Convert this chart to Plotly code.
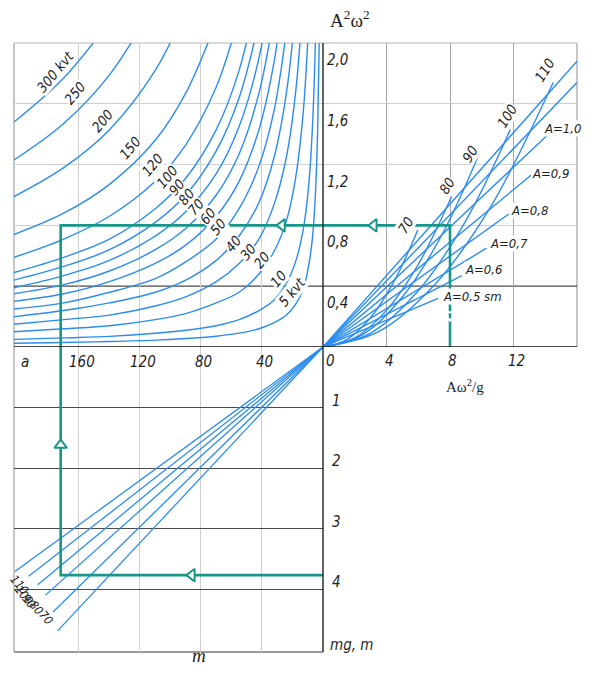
import plotly.graph_objects as go

OFF = 8                  # page body margin of the html page
W, H = 591 - 2 * OFF, 673 - 2 * OFF   # figure size that fits the window without scrollbars

# ---------------- data ----------------
# Upper-left quadrant: power curves, A^2w^2 read at common m positions
M_GRID = [202.6, 170, 140, 110, 90, 70, 55, 42, 32, 24, 18, 13, 9.5, 7, 5, 3.5, 2.5, 1.8]
POWER_LABELS = ["300 kvt", "250", "200", "150", "120", "100", "90", "80", "70",
                "60", "50", "40", "30", "20", "10", "5 kvt"]
POWER_Y = [
    [1.48, 1.77, 2.14],
    [1.23, 1.47, 1.79, 2.27],
    [0.99, 1.18, 1.43, 1.82, 2.22],
    [0.74, 0.88, 1.07, 1.36, 1.67, 2.14],
    [0.59, 0.71, 0.86, 1.09, 1.33, 1.71, 2.18],
    [0.49, 0.59, 0.71, 0.91, 1.11, 1.43, 1.82, 2.38],
    [0.44, 0.53, 0.64, 0.82, 1.00, 1.29, 1.64, 2.14],
    [0.39, 0.47, 0.57, 0.73, 0.89, 1.14, 1.45, 1.90, 2.50],
    [0.35, 0.41, 0.50, 0.64, 0.78, 1.00, 1.27, 1.67, 2.19],
    [0.30, 0.35, 0.43, 0.55, 0.67, 0.86, 1.09, 1.43, 1.88, 2.50],
    [0.25, 0.29, 0.36, 0.45, 0.56, 0.71, 0.91, 1.19, 1.56, 2.08],
    [0.20, 0.24, 0.29, 0.36, 0.44, 0.57, 0.73, 0.95, 1.25, 1.67, 2.22],
    [0.15, 0.18, 0.21, 0.27, 0.33, 0.43, 0.55, 0.71, 0.94, 1.25, 1.67, 2.31],
    [0.10, 0.12, 0.14, 0.18, 0.22, 0.29, 0.36, 0.48, 0.63, 0.83, 1.11, 1.54, 2.11],
    [0.05, 0.06, 0.07, 0.09, 0.11, 0.14, 0.18, 0.24, 0.31, 0.42, 0.56, 0.77, 1.05, 1.43, 2.00, 2.86],
    [0.025, 0.03, 0.036, 0.045, 0.056, 0.071, 0.091, 0.12, 0.16, 0.21, 0.28, 0.38, 0.53, 0.71, 1.00, 1.43, 2.00, 2.78],
]
POWER_LABEL_M = [175.7, 162.6, 144.9, 126.6, 112.1, 102.3, 95.7, 89.8, 83.3, 75.4, 68.9, 59.0, 49.2, 40.0, 29.5, 20.3]
POWER_LABEL_Y = [1.81, 1.67, 1.49, 1.31, 1.20, 1.12, 1.05, 0.99, 0.92, 0.86, 0.79, 0.68, 0.625, 0.57, 0.45, 0.36]

# Upper-right quadrant: frequency curves
FREQ_LABELS = ["70", "80", "90", "100", "110"]
FREQ_X = [[0, 1.5, 3, 4.5, 5.97], [0, 2, 4, 6, 8.1], [0, 2.5, 5, 7.5, 9.75],
          [0, 3, 6, 9, 11.8], [0, 3.5, 7, 10.5, 14.5]]
FREQ_Y = [[0, 0.049, 0.194, 0.437, 0.77], [0, 0.060, 0.241, 0.543, 0.99],
          [0, 0.082, 0.329, 0.740, 1.25], [0, 0.092, 0.370, 0.832, 1.43],
          [0, 0.101, 0.406, 0.912, 1.74]]
FREQ_LABEL_X = [5.23, 7.81, 9.26, 11.59, 13.98]
FREQ_LABEL_Y = [0.80, 1.06, 1.27, 1.52, 1.82]

# Upper-right quadrant: amplitude lines (from origin)
AMP_LABELS = ["A=0,5 sm", "A=0,6", "A=0,7", "A=0,8", "A=0,9", "A=1,0"]
AMP_END_X = [7.25, 8.75, 10.3, 11.7, 13.1, 14.5]
AMP_END_Y = [0.32, 0.47, 0.65, 0.875, 1.13, 1.43]
AMP_LABEL_X = [7.5, 8.9, 10.45, 11.8, 13.1, 13.85]   # left edge of each label
AMP_LABEL_Y = [0.33, 0.51, 0.68, 0.90, 1.14, 1.44]
LONG_END_X = [16, 16]
LONG_END_Y = [1.88, 1.74]

# Lower quadrant: mg lines
LOW_END_M = [202, 193, 187, 182, 177, 174]
LOW_END_MG = [3.71, 3.79, 3.93, 4.10, 4.38, 4.69]
LOW_LABELS = ["110", "100", "90", "80", "70"]
LOW_LABEL_M = [199.0, 196.0, 192.5, 188.0, 181.5]
LOW_LABEL_MG = [3.93, 4.09, 4.21, 4.32, 4.48]

# Example (teal) path
PATH_UR_X = [8, 8, 0]
PATH_UR_Y = [0, 0.8, 0.8]
PATH_UL_M = [0, 172, 172]
PATH_UL_Y = [0.8, 0.8, 0]
PATH_LO_M = [172, 172, 0]
PATH_LO_MG = [0, 3.77, 3.77]
ARROW_UR_X = [3.2, 8]
ARROW_UR_Y = [0.8, 0.21]
ARROW_UR_SYM = ["triangle-left", "triangle-down-open"]
ARROW_UL_M = [26.9]
ARROW_UL_Y = [0.8]
ARROW_LO_M = [172, 86]
ARROW_LO_MG = [1.62, 3.77]
ARROW_LO_SYM = ["triangle-up", "triangle-left"]

# Tick labels
Y_TICKS = [0.4, 0.8, 1.2, 1.6, 2.0]
Y_TICK_TEXT = ["0,4", "0,8", "1,2", "1,6", "2,0"]
M_TICKS = [160, 120, 80, 40]
X2_TICKS = [0, 4, 8, 12]
MG_TICKS = [1, 2, 3, 4]

# ---------------- styling ----------------
BLUE = "#2b8cf0"
TEAL = "#17968a"
LIGHT = "#cfcfcf"
MID = "#a8a8a8"
DARK = "#4a4a4a"
FONT_I = dict(family="DejaVu Sans Condensed, Liberation Sans Narrow, Liberation Sans, sans-serif",
              size=15, color="#1e1e1e", style="italic")
FONT_S = dict(family="Liberation Serif, DejaVu Serif, serif", size=15, color="#1e1e1e")


def pxx(x):
    return (x - OFF) / W


def pxy(y):
    return 1 - (y - OFF) / H


fig = go.Figure()

# power curves
for ys in POWER_Y:
    fig.add_trace(go.Scatter(x=M_GRID[:len(ys)], y=ys, xaxis="x", yaxis="y", mode="lines",
                             line=dict(color=BLUE, width=1.4, shape="spline"), hoverinfo="skip"))

# frequency curves
for xs, ys in zip(FREQ_X, FREQ_Y):
    fig.add_trace(go.Scatter(x=xs, y=ys, xaxis="x2", yaxis="y2", mode="lines",
                             line=dict(color=BLUE, width=1.4, shape="spline"), hoverinfo="skip"))
# amplitude lines
for xe, ye in zip(AMP_END_X + LONG_END_X, AMP_END_Y + LONG_END_Y):
    fig.add_trace(go.Scatter(x=[0, xe], y=[0, ye], xaxis="x2", yaxis="y2", mode="lines",
                             line=dict(color=BLUE, width=1.4), hoverinfo="skip"))
# lower lines
for me, ge in zip(LOW_END_M, LOW_END_MG):
    fig.add_trace(go.Scatter(x=[0, me], y=[0, ge], xaxis="x3", yaxis="y3", mode="lines",
                             line=dict(color=BLUE, width=1.3), hoverinfo="skip"))

# teal path
for xs, ys, xa, ya in [(PATH_UR_X, PATH_UR_Y, "x2", "y2"), (PATH_UL_M, PATH_UL_Y, "x", "y"),
                       (PATH_LO_M, PATH_LO_MG, "x3", "y3")]:
    fig.add_trace(go.Scatter(x=xs, y=ys, xaxis=xa, yaxis=ya, mode="lines",
                             line=dict(color=TEAL, width=2.6), hoverinfo="skip"))

MK = dict(size=11, color="white", line=dict(color=TEAL, width=2))
fig.add_trace(go.Scatter(x=ARROW_UR_X, y=ARROW_UR_Y, xaxis="x2", yaxis="y2", mode="markers",
                         marker=dict(symbol=ARROW_UR_SYM, **MK), hoverinfo="skip", cliponaxis=False))
fig.add_trace(go.Scatter(x=ARROW_UL_M, y=ARROW_UL_Y, xaxis="x", yaxis="y", mode="markers",
                         marker=dict(symbol="triangle-left", **MK), hoverinfo="skip", cliponaxis=False))
fig.add_trace(go.Scatter(x=ARROW_LO_M, y=ARROW_LO_MG, xaxis="x3", yaxis="y3", mode="markers",
                         marker=dict(symbol=ARROW_LO_SYM, **MK), hoverinfo="skip", cliponaxis=False))

ann = []
# curve labels
for t, m, y in zip(POWER_LABELS, POWER_LABEL_M, POWER_LABEL_Y):
    ann.append(dict(x=m, y=y, xref="x", yref="y", text=t, textangle=-50, showarrow=False,
                    bgcolor="white", borderpad=0, font=dict(FONT_I, size=14)))
for t, x, y in zip(FREQ_LABELS, FREQ_LABEL_X, FREQ_LABEL_Y):
    ann.append(dict(x=x, y=y, xref="x2", yref="y2", text=t, textangle=-58, showarrow=False,
                    bgcolor="white", borderpad=0, font=dict(FONT_I, size=14)))
for t, x, y in zip(AMP_LABELS, AMP_LABEL_X, AMP_LABEL_Y):
    ann.append(dict(x=x, y=y, xref="x2", yref="y2", text=t, showarrow=False, xanchor="left",
                    bgcolor="white", borderpad=0, font=dict(FONT_I, size=13)))
for t, m, g in zip(LOW_LABELS, LOW_LABEL_M, LOW_LABEL_MG):
    ann.append(dict(x=m, y=g, xref="x3", yref="y3", text=t, textangle=50, showarrow=False,
                    font=dict(FONT_I, size=12)))
# tick labels
for v, t in zip(Y_TICKS, Y_TICK_TEXT):
    ann.append(dict(x=0, y=v, xref="x2", yref="y2", text=t, showarrow=False, xshift=15,
                    yshift=-17, font=FONT_I))
for v in M_TICKS:
    ann.append(dict(x=v, y=0, xref="x", yref="y", text=str(v), showarrow=False, xshift=3,
                    yshift=-15, font=FONT_I))
for v in X2_TICKS:
    ann.append(dict(x=v, y=0, xref="x2", yref="y2", text=str(v), showarrow=False,
                    xshift=(8 if v == 0 else 3), yshift=-14, font=FONT_I))
for v in MG_TICKS:
    ann.append(dict(x=0, y=v, xref="x3", yref="y3", text=str(v), showarrow=False, xshift=13,
                    yshift=7, font=FONT_I))
ann.append(dict(x=0, y=0, xref="x domain", yref="y", text="a", showarrow=False, xanchor="center",
                xshift=11, yshift=-15, font=FONT_I))
ann.append(dict(x=1, y=0, xref="x3 domain", yref="y3 domain", text="mg, m", showarrow=False,
                xanchor="left", yanchor="middle", xshift=5, yshift=7, font=FONT_I))
ann.append(dict(x=0.6, y=0, xref="x3 domain", yref="y3 domain", text="m", showarrow=False,
                yanchor="middle", yshift=-3, font=dict(family="Liberation Serif, serif", size=19,
                                                       color="#1e1e1e", style="italic")))
ann.append(dict(x=0, y=1, xref="x2 domain", yref="y2 domain", text="A<sup>2</sup>ω<sup>2</sup>",
                showarrow=False, xshift=5, yanchor="middle", yshift=24, font=dict(FONT_S, size=19)))
ann.append(dict(x=8.94, y=0, xref="x2", yref="y2", text="Aω<sup>2</sup>/g", showarrow=False,
                yshift=-39, font=FONT_S))

shapes = []


def line(xref, x0, x1, yref, y0, y1, color, width=1.3, layer="below"):
    shapes.append(dict(type="line", xref=xref, yref=yref, x0=x0, x1=x1, y0=y0, y1=y1,
                       line=dict(color=color, width=width), layer=layer))


# frame
line("x domain", 0, 1, "y domain", 1, 1, LIGHT)
line("x2 domain", 0, 1, "y2 domain", 1, 1, LIGHT)
line("x2 domain", 1, 1, "y2 domain", 0, 1, MID)
line("x domain", 0, 0, "y domain", 0, 1, MID)
line("x3 domain", 0, 0, "y3 domain", 0, 1, MID)
line("x3 domain", 0, 1, "y3 domain", 0, 0, "#777777")
# darker 0.4 grid line
line("x domain", 0, 1, "y", 0.4, 0.4, DARK)
line("x2 domain", 0, 1, "y2", 0.4, 0.4, DARK)
# main axes
line("x domain", 0, 1, "y", 0, 0, "#111111", 1.6, "above")
line("x2 domain", 0, 1, "y2", 0, 0, "#111111", 1.6, "above")
line("x2 domain", 0, 0, "y2 domain", 0, 1, "#222222", 1.4, "above")
line("x3 domain", 1, 1, "y3 domain", 0, 1, "#222222", 1.4, "above")

AX = dict(showline=False, zeroline=False, showticklabels=False, ticks="", showgrid=True,
          gridwidth=1.2, fixedrange=True)

fig.update_layout(
    width=W, height=H, margin=dict(l=0, r=0, t=0, b=0),
    paper_bgcolor="white", plot_bgcolor="white", showlegend=False, hovermode=False,
    xaxis=dict(AX, domain=[pxx(14), pxx(323)], range=[202.6, 0], anchor="y",
               tickvals=M_TICKS, gridcolor=LIGHT),
    yaxis=dict(AX, domain=[pxy(347), pxy(43)], range=[0, 2.0], anchor="x",
               tickvals=[0.8, 1.2, 1.6], gridcolor=LIGHT),
    xaxis2=dict(AX, domain=[pxx(323), pxx(577)], range=[0, 16], anchor="y2",
                tickvals=[4, 8, 12], gridcolor=MID),
    yaxis2=dict(AX, domain=[pxy(347), pxy(43)], range=[0, 2.0], anchor="x2",
                tickvals=[0.8, 1.2, 1.6], gridcolor=LIGHT),
    xaxis3=dict(AX, domain=[pxx(14), pxx(323)], range=[202.6, 0], anchor="y3",
                tickvals=M_TICKS, gridcolor=LIGHT),
    yaxis3=dict(AX, domain=[pxy(652), pxy(347)], range=[5.04, 0], anchor="x3",
                tickvals=MG_TICKS, gridcolor=DARK),
    annotations=ann, shapes=shapes,
)

fig.write_html("out.html")
